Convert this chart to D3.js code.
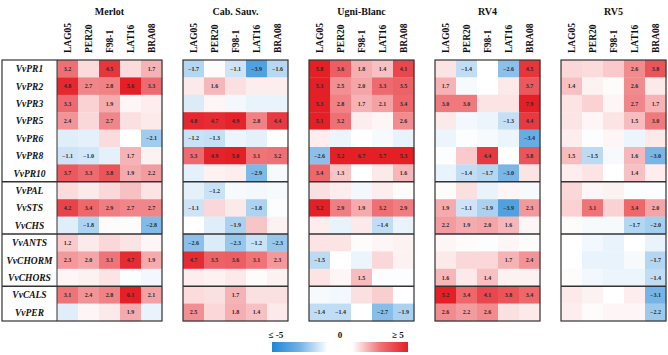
<!DOCTYPE html>
<html><head><meta charset="utf-8">
<script src="https://cdn.jsdelivr.net/npm/d3@7"></script>
<style>body{margin:0;background:#fff}svg{display:block}</style>
</head><body><svg id="c" width="668" height="355"></svg>
<script>
const genes = ["VvPR1","VvPR2","VvPR3","VvPR5","VvPR6","VvPR8","VvPR10","VvPAL","VvSTS","VvCHS","VvANTS","VvCHORM","VvCHORS","VvCALS","VvPER"];
const groupBreaks = ["VvPAL","VvANTS","VvCALS"];
const cultivars = ["Merlot","Cab. Sauv.","Ugni-Blanc","RV4","RV5"];
const lines = ["LAG05","PER20","F98-1","LAT16","BRA08"];
const legendLabels = ["≤ -5","0","≥ 5"];

// log2 fold-change values (unlabelled cells estimated from their colour)
const merlotVals = [
 [3.2,0.8,4.5,0.8,1.7],[4.8,2.7,2.8,5.6,3.3],[3.3,1.0,1.9,0.2,0.4],[2.4,0.9,2.7,0.7,0.5],
 [-0.7,-0.6,0.8,0,-2.1],[-1.1,-1.0,-0.6,1.7,0.3],[3.7,3.3,3.8,1.9,2.2],[0.8,0.5,0.9,1.4,0.6],
 [4.2,3.4,2.9,2.7,2.7],[-0.7,-1.8,0.1,0.1,-2.8],[1.2,0.5,0.9,0.6,0.2],[2.3,2.0,3.1,4.7,1.9],
 [0.2,0.3,0.6,-0.1,-0.3],[3.1,2.4,2.8,6.1,2.1],[-0.7,0.2,0.5,1.9,-0.5]];
const merlotShown = [
 [1,0,1,0,1],[1,1,1,1,1],[1,0,1,0,0],[1,0,1,0,0],[0,0,0,0,1],[1,1,0,1,0],[1,1,1,1,1],[0,0,0,0,0],
 [1,1,1,1,1],[0,1,0,0,1],[1,0,0,0,0],[1,1,1,1,1],[0,0,0,0,0],[1,1,1,1,1],[0,0,0,1,0]];
const cabVals = [
 [-1.7,0.1,-1.1,-3.9,-1.6],[0.5,1.6,0.7,0.4,0.4],[-0.8,0.2,-0.3,-0.5,-0.5],[4.8,4.7,4.9,2.8,4.4],
 [-1.2,-1.3,-0.4,-0.6,0],[3.3,4.9,5.0,3.1,3.2],[-0.6,0.3,0.4,-2.9,-0.2],[-0.6,-1.2,-0.2,-0.3,-0.2],
 [-1.1,0.9,0.5,-1.8,-0.1],[0,-0.7,-1.9,1.3,0.3],[-2.6,-0.8,-2.3,-1.2,-2.3],[4.7,3.5,3.6,3.1,2.3],
 [0.4,0.3,0.5,0.1,0.3],[0.8,0.7,1.7,0.7,0.7],[2.5,0.9,1.8,1.4,0.5]];
const cabShown = [
 [1,0,1,1,1],[0,1,0,0,0],[0,0,0,0,0],[1,1,1,1,1],[1,1,0,0,0],[1,1,1,1,1],[0,0,0,1,0],[0,1,0,0,0],
 [1,0,0,1,0],[0,0,1,0,0],[1,0,1,1,1],[1,1,1,1,1],[0,0,0,0,0],[0,0,1,0,0],[1,0,1,1,0]];
const ugniVals = [
 [5.8,3.6,1.8,1.4,4.1],[5.3,2.5,2.0,3.3,3.5],[5.3,2.8,1.7,2.1,3.4],[5.1,3.2,0.4,0.2,2.6],
 [0.4,-0.4,0,-0.2,-0.5],[-2.6,5.2,6.7,5.7,5.3],[3.4,1.3,0,0.5,1.6],[0.7,0.4,-0.3,0.4,0.1],
 [5.2,2.9,1.9,3.2,2.9],[0.4,-0.5,0.5,-1.4,-0.5],[0.6,0.6,0.1,0.2,0.3],[-1.5,0,-0.4,0.9,0.3],
 [0.6,0.2,1.5,-0.1,-0.1],[-0.2,-0.3,0.7,1.1,0],[-1.4,-1.4,0,-2.7,-1.9]];
const ugniShown = [
 [1,1,1,1,1],[1,1,1,1,1],[1,1,1,1,1],[1,1,0,0,1],[0,0,0,0,0],[1,1,1,1,1],[1,1,0,0,1],[0,0,0,0,0],
 [1,1,1,1,1],[0,0,0,1,0],[0,0,0,0,0],[1,0,0,0,0],[0,0,1,0,0],[0,0,0,0,0],[1,1,0,1,1]];
const rv4Vals = [
 [0.6,-1.4,0,-2.6,4.5],[1.7,-0.2,0,0.5,3.7],[3.0,3.0,0.6,0.6,7.9],[0.5,-0.3,-0.4,-1.3,4.4],
 [-0.4,-0.1,-0.2,-0.4,-3.4],[-0.1,1.2,4.4,0,3.8],[-0.5,-1.4,-1.7,-3.0,0.6],[0.1,0.7,-0.5,0.2,-0.2],
 [1.9,-1.1,-1.9,-3.9,2.3],[2.2,1.9,2.0,1.6,0.2],[0.2,0.1,-0.1,0.2,0.1],[0.5,0.9,0.9,1.7,2.4],
 [1.6,0.5,1.4,0.3,0.3],[5.2,3.4,4.1,3.8,3.4],[2.6,2.2,2.6,0.7,0.5]];
const rv4Shown = [
 [0,1,0,1,1],[1,0,0,0,1],[1,1,0,0,1],[0,0,0,1,1],[0,0,0,0,1],[0,0,1,0,1],[0,1,1,1,0],[0,0,0,0,0],
 [1,1,1,1,1],[1,1,1,1,0],[0,0,0,0,0],[0,0,0,1,1],[1,0,1,0,0],[1,1,1,1,1],[1,1,1,0,0]];
const rv5Vals = [
 [0.9,0.8,1.2,2.6,3.8],[1.4,0.3,0.1,2.6,0.5],[0.6,1.0,0.2,2.7,1.7],[0.6,0.2,0.6,1.5,3.0],
 [0.4,-0.1,0.2,-0.4,0.5],[1.5,-1.5,-0.2,1.6,-3.0],[0.4,0.6,0,1.4,0.4],[0.9,0.2,0.3,-0.1,-0.1],
 [1.0,3.1,1.0,3.4,2.0],[0.1,-0.2,-0.2,-1.7,-2.0],[0,-0.3,-0.5,0,-0.5],[0,-0.5,-0.5,-0.2,-1.7],
 [0.1,-0.3,-0.4,-0.4,-1.4],[0.5,0.3,0,0.4,-3.1],[0.4,0.1,0.2,0.2,-2.2]];
const rv5Shown = [
 [0,0,0,1,1],[1,0,0,1,0],[0,0,0,1,1],[0,0,0,1,1],[0,0,0,0,0],[1,1,0,1,1],[0,0,0,1,0],[0,0,0,0,0],
 [0,1,0,1,1],[0,0,0,1,1],[0,0,0,0,0],[0,0,0,0,1],[0,0,0,0,1],[0,0,0,0,1],[0,0,0,0,1]];

const allVals = [merlotVals, cabVals, ugniVals, rv4Vals, rv5Vals];
const allShown = [merlotShown, cabShown, ugniShown, rv4Shown, rv5Shown];

const svg = d3.select("#c");
const serif = "'Liberation Serif','DejaVu Serif',serif";
const panelX = d3.scaleBand().domain(cultivars).range([57, 666]).paddingInner(0.1667);
const y = d3.scaleBand().domain(genes).range([60, 321]);
const color = d3.scaleLinear().domain([-5, 0, 5]).range(["#1f86d6", "#ffffff", "#e41f26"]).clamp(true);

cultivars.forEach((cv, ci) => {
  const x0 = panelX(cv);
  const x = d3.scaleBand().domain(lines).range([x0, x0 + panelX.bandwidth()]);
  const g = svg.append("g");
  const cells = [];
  genes.forEach((gn, ri) => lines.forEach((ln, li) => cells.push({gn, ln, v: allVals[ci][ri][li], s: allShown[ci][ri][li]})));
  g.selectAll("rect.cell").data(cells).join("rect")
    .attr("x", d => x(d.ln)).attr("y", d => y(d.gn))
    .attr("width", x.bandwidth() + 0.3).attr("height", y.bandwidth() + 0.3)
    .attr("fill", d => color(d.v));
  g.selectAll("text.val").data(cells.filter(d => d.s)).join("text")
    .attr("x", d => x(d.ln) + x.bandwidth() / 2).attr("y", d => y(d.gn) + y.bandwidth() / 2 + 2)
    .attr("text-anchor", "middle").attr("font-family", serif).attr("font-weight", "bold")
    .attr("font-size", "6px").attr("fill", "#2a2a2a")
    .text(d => d.v.toFixed(1).replace("-", "\u2212"));
  // title
  g.append("text").attr("x", x0 + panelX.bandwidth() / 2).attr("y", 15)
    .attr("text-anchor", "middle").attr("font-family", serif).attr("font-weight", "bold")
    .attr("font-size", "10px").attr("fill", "#111").text(cv);
  // column headers
  g.selectAll("text.col").data(lines).join("text")
    .attr("transform", d => `translate(${x(d) + x.bandwidth() / 2 + 3.5},53) rotate(-90)`)
    .attr("text-anchor", "start").attr("font-family", serif).attr("font-weight", "bold")
    .attr("font-size", "9.5px").attr("fill", "#111").text(d => d);
  // borders
  const left = ci === 0 ? 2 : x0;
  g.append("rect").attr("x", left).attr("y", y.range()[0])
    .attr("width", x0 + panelX.bandwidth() - left).attr("height", y.range()[1] - y.range()[0])
    .attr("fill", "none").attr("stroke", "#333").attr("stroke-width", 1.2);
  groupBreaks.forEach(b => g.append("line").attr("x1", left).attr("x2", x0 + panelX.bandwidth())
    .attr("y1", y(b)).attr("y2", y(b)).attr("stroke", "#333").attr("stroke-width", 1.4));
  if (ci === 0) {
    g.append("line").attr("x1", x0).attr("x2", x0).attr("y1", y.range()[0]).attr("y2", y.range()[1])
      .attr("stroke", "#333").attr("stroke-width", 1);
    g.selectAll("text.row").data(genes).join("text")
      .attr("x", (left + x0) / 2).attr("y", d => y(d) + y.bandwidth() / 2 + 3.5)
      .attr("text-anchor", "middle").attr("font-family", serif).attr("font-weight", "bold")
      .attr("font-style", "italic").attr("font-size", "9.5px").attr("fill", "#111").text(d => d);
  }
});

// legend
const defs = svg.append("defs");
const grad = defs.append("linearGradient").attr("id", "lg");
[[0, color(-5)], [0.2, color(-3.2)], [0.41, "#ffffff"], [0.59, "#ffffff"], [0.8, color(3.2)], [1, color(5)]]
  .forEach(([o, c]) => grad.append("stop").attr("offset", o).attr("stop-color", c));
const lx = d3.scaleLinear().domain([-5, 5]).range([272, 408]);
svg.append("rect").attr("x", lx(-5)).attr("y", 342).attr("width", lx(5) - lx(-5)).attr("height", 10)
  .attr("fill", "url(#lg)");
svg.selectAll("text.leg").data(legendLabels).join("text")
  .attr("x", (d, i) => lx([-5, 0, 5][i]) + [4, 0, -10][i]).attr("y", 338)
  .attr("text-anchor", "middle").attr("font-family", serif).attr("font-weight", "bold")
  .attr("font-size", "9px").attr("fill", "#111").text(d => d);
</script></body></html>
